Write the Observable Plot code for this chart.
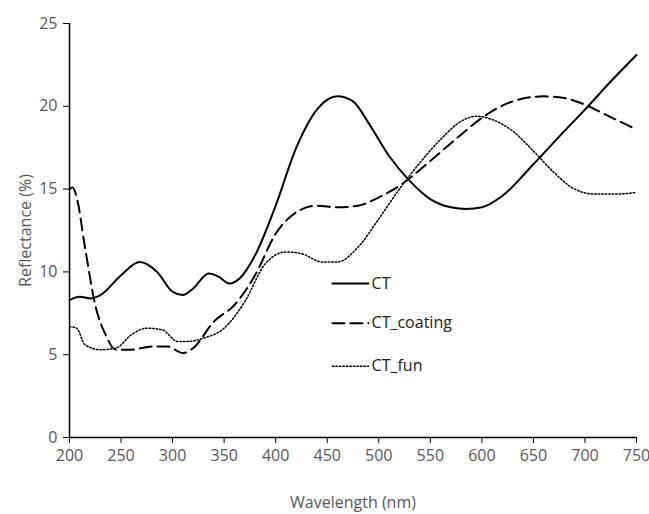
<!DOCTYPE html>
<html><head>
<script src="https://cdn.jsdelivr.net/npm/d3@7"></script>
<script src="https://cdn.jsdelivr.net/npm/@observablehq/plot@0.6"></script>
<style>body{margin:0;background:#fff}</style>
</head><body><div id="chart"></div>
<script>
const ctX = [200,210,220,230,250,268,285,300,310,320,335,345,355,365,380,400,420,440,460,475,490,510,530,550,570,585,600,620,650,680,700,725,750];
const ctY = [8.3,8.5,8.4,8.6,9.8,10.6,10.0,8.8,8.6,9.0,9.9,9.7,9.3,9.6,11.0,14.0,17.5,19.8,20.6,20.3,19.0,17.0,15.5,14.4,13.9,13.8,13.9,14.6,16.5,18.5,19.8,21.5,23.1];
const coatX = [200,203,207,215,225,235,245,260,280,295,310,320,340,360,380,400,420,440,460,480,500,520,550,580,600,630,660,680,700,720,750];
const coatY = [15.0,15.1,14.5,11.5,8.0,6.2,5.3,5.3,5.5,5.5,5.1,5.4,7.0,8.0,9.8,12.3,13.6,14.0,13.9,14.0,14.5,15.2,16.7,18.3,19.3,20.3,20.6,20.5,20.1,19.5,18.6];
const funX = [200,207,215,230,245,260,275,290,305,315,330,350,370,390,410,425,445,460,480,500,520,540,560,580,595,610,630,650,670,690,710,730,750];
const funY = [6.7,6.6,5.6,5.3,5.4,6.2,6.6,6.5,5.8,5.8,6.0,6.6,8.2,10.5,11.2,11.1,10.6,10.6,11.5,13.2,15.0,16.6,18.0,19.1,19.4,19.2,18.5,17.3,16.0,15.0,14.7,14.7,14.8];
const seriesNames = ["CT","CT_coating","CT_fun"];
const dashes = [null,"12,6","1.5,2"];
const widths = [2,2,1.5];
const legendY = [9.3,6.9,4.3];
const xTicks = d3.range(200, 751, 50);
const yTicks = [0,5,10,15,20,25];

const toRows = (xs, ys, s) => xs.map((x, i) => ({x, y: ys[i], s}));
const data = [...toRows(ctX, ctY, "CT"), ...toRows(coatX, coatY, "CT_coating"), ...toRows(funX, funY, "CT_fun")];

const marks = [
  Plot.axisX(xTicks, {tickSize: 6, tickPadding: 6, fontSize: 16, color: "#595959", stroke: "#000", label: "Wavelength (nm)", labelAnchor: "center", labelOffset: 70, labelArrow: "none"}),
  Plot.axisY(yTicks, {tickSize: 6, tickPadding: 6, fontSize: 16, color: "#595959", stroke: "#000", label: "Reflectance (%)", labelAnchor: "center", labelOffset: 50, labelArrow: "none"}),
  Plot.ruleY([0], {stroke: "#000", strokeWidth: 1.5}),
  Plot.ruleX([200], {y1: 0, y2: 25, stroke: "#000", strokeWidth: 1.5})
];
seriesNames.forEach((name, i) => {
  marks.push(Plot.line(data.filter(d => d.s === name), {x: "x", y: "y", curve: "monotone-x", stroke: "#000", strokeWidth: widths[i], strokeDasharray: dashes[i]}));
  marks.push(Plot.line([{x: 455, y: legendY[i]}, {x: 490, y: legendY[i]}], {x: "x", y: "y", stroke: "#000", strokeWidth: widths[i], strokeDasharray: dashes[i]}));
  marks.push(Plot.text([name], {x: 493, y: legendY[i], text: d => d, textAnchor: "start", fontSize: 16, fill: "#222"}));
});

document.getElementById("chart").append(Plot.plot({
  width: 649, height: 514,
  marginLeft: 69, marginRight: 13, marginTop: 23, marginBottom: 77,
  style: {fontFamily: "Open Sans", fontSize: "17px", color: "#595959"},
  x: {domain: [200, 750]},
  y: {domain: [0, 25]},
  marks
}));
</script>
</body></html>
